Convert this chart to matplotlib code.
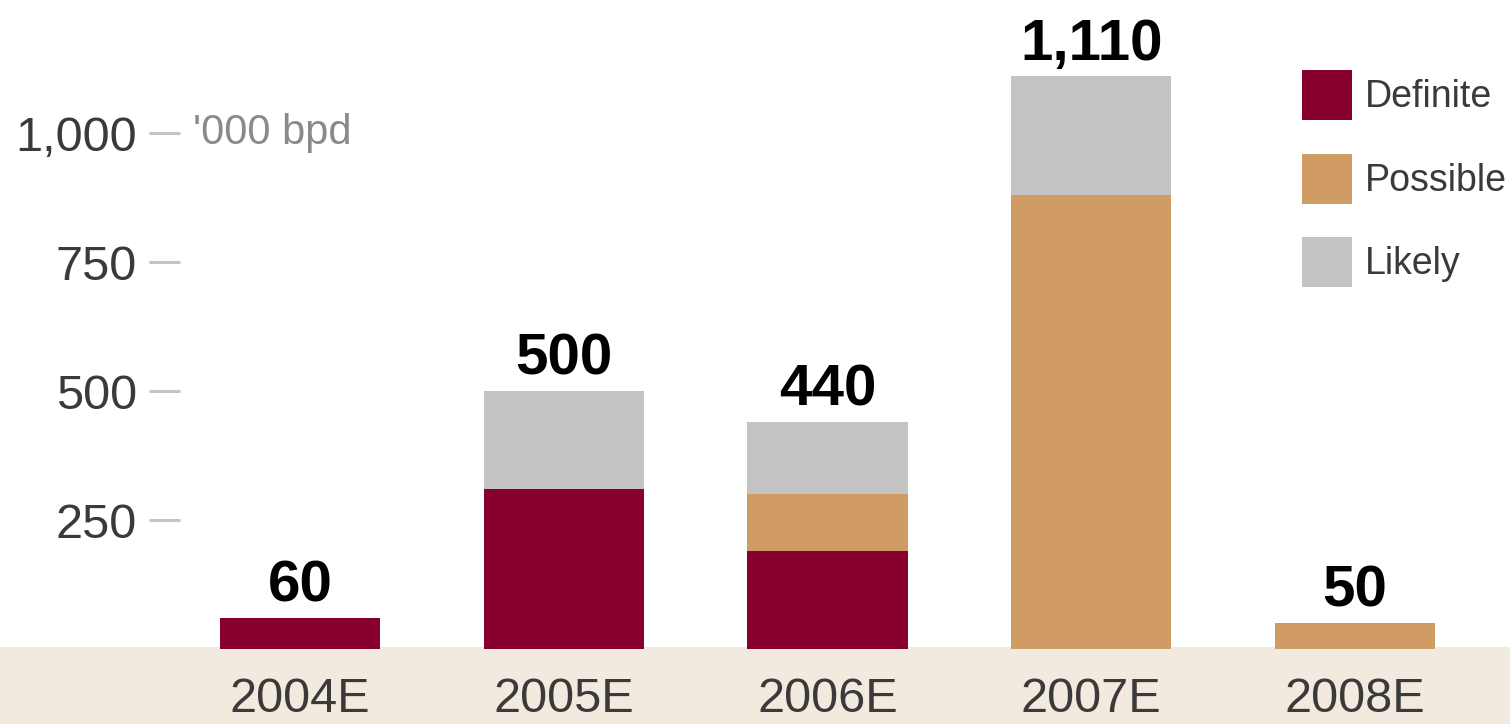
import matplotlib
matplotlib.use("Agg")
import matplotlib.pyplot as plt
from matplotlib.patches import Rectangle
from matplotlib.transforms import blended_transform_factory
import numpy as np

years = ["2004E", "2005E", "2006E", "2007E", "2008E"]
definite = [60, 310, 190, 0, 0]
possible = [0, 0, 110, 880, 50]
likely = [0, 190, 140, 230, 0]
totals = ["60", "500", "440", "1,110", "50"]
yticks = [250, 500, 750, 1000]
ytick_labels = ["250", "500", "750", "1,000"]

C_DEF = "#870030"
C_POS = "#D09C64"
C_LIK = "#C3C3C3"
C_BAND = "#F2E9DF"
TXT = "#3a3a3a"
FONT = ["Liberation Sans", "DejaVu Sans"]

W, H = 1510, 724
fig = plt.figure(figsize=(W / 100, H / 100), dpi=100)
fig.patch.set_facecolor("white")
fig.add_artist(Rectangle((0, 0), 1, (H - 647) / H, transform=fig.transFigure,
                         facecolor=C_BAND, edgecolor="none", zorder=0))

ax_l, ax_b = 180 / W, (H - 649) / H
ax = fig.add_axes([ax_l, ax_b, 1 - ax_l, 1 - ax_b])
ax.patch.set_alpha(0)
for s in ax.spines.values():
    s.set_visible(False)

x = np.arange(len(years))
d = np.array(definite)
p = np.array(possible)
l = np.array(likely)
bw = 0.607
ax.bar(x, d, bw, color=C_DEF, label="Definite")
ax.bar(x, p, bw, bottom=d, color=C_POS, label="Possible")
ax.bar(x, l, bw, bottom=d + p, color=C_LIK, label="Likely")

for xi, tot, lab in zip(x, d + p + l, totals):
    ax.annotate(lab, (xi, tot), xytext=(0, 12), textcoords="offset points",
                ha="center", va="baseline", fontsize=42, fontweight="bold",
                family=FONT, color="black")

ax.set_xlim(-(300 - 180) / 263.75, 4 + (1510 - 1355) / 263.75)
ax.set_ylim(0, 649 / 0.516)
ax.set_xticks(x)
ax.set_xticklabels(years, fontsize=35, family=FONT, color=TXT)
ax.tick_params(axis="x", length=0, pad=20)
ax.set_yticks(yticks)
ax.set_yticklabels(ytick_labels, fontsize=35, family=FONT, color=TXT)
ax.tick_params(axis="y", direction="out", length=22, width=2.2,
               color="#C4C4C4", pad=9)

tr = blended_transform_factory(ax.transAxes, ax.transData)
ax.text((193 - 180) / (W - 180), 1000, "'000 bpd", transform=tr,
        ha="left", va="center", fontsize=30, family=FONT, color="#8a8a8a")

fs_leg = 27
leg = ax.legend(loc="upper left", bbox_to_anchor=(1302 / W, 1 - 70 / H),
                bbox_transform=fig.transFigure, frameon=False,
                prop={"family": FONT, "size": fs_leg},
                handlelength=1.33, handleheight=1.67, handletextpad=0.35,
                labelspacing=0.9, borderpad=0, borderaxespad=0)
for t in leg.get_texts():
    t.set_color(TXT)

fig.savefig("out.png", dpi=100)
